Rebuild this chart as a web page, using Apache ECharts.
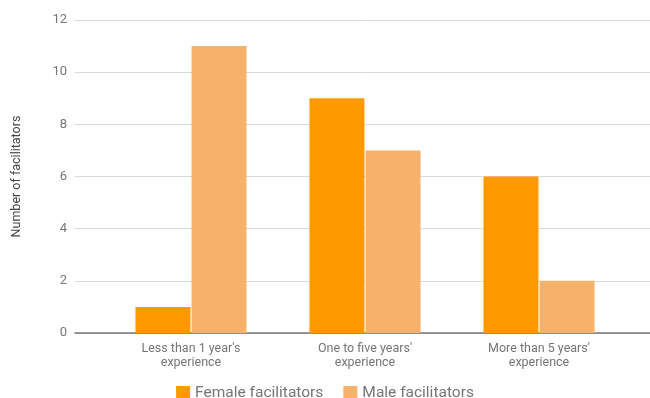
<!DOCTYPE html>
<html>
<head>
<meta charset="utf-8">
<script src="https://cdn.jsdelivr.net/npm/echarts@6/dist/echarts.min.js"></script>
<style>
  html, body { margin: 0; padding: 0; background: #fff; }
  #main { width: 650px; height: 398px; }
</style>
</head>
<body>
<div id="main"></div>
<script>
// data
var categories = ["Less than 1 year's\nexperience", "One to five years'\nexperience", "More than 5 years'\nexperience"];
var female = [1, 9, 6];
var male = [11, 7, 2];
var yTicks = [0, 2, 4, 6, 8, 10, 12];

var chart = echarts.init(document.getElementById('main'));

var labelFont = { color: '#757575', fontFamily: 'Roboto', fontSize: 12.5 };

var option = {
  animation: false,
  color: ['#ff9900', '#f6b26b'],
  legend: {
    top: 380,
    left: 'center',
    itemWidth: 14,
    itemHeight: 14,
    itemGap: 20,
    icon: 'rect',
    textStyle: { color: '#757575', fontFamily: 'Roboto', fontSize: 15.5 },
    data: ['Female facilitators', 'Male facilitators']
  },
  grid: [
    // background grid: gridlines run across the whole width
    { left: 75, right: 0, top: 20, bottom: 65 },
    // bars sit in a narrower band
    { left: 104, right: 24, top: 20, bottom: 65 }
  ],
  xAxis: [{
    gridIndex: 0,
    type: 'category',
    data: [''],
    axisLine: { show: true, lineStyle: { color: '#777', width: 1.5 } },
    axisTick: { show: false },
    axisLabel: { show: false }
  }, {
    gridIndex: 1,
    type: 'category',
    data: categories,
    axisLine: { show: false },
    axisTick: { show: false },
    axisLabel: Object.assign({ margin: 9, lineHeight: 14 }, labelFont)
  }],
  yAxis: [{
    gridIndex: 0,
    type: 'value',
    min: yTicks[0],
    max: yTicks[yTicks.length - 1],
    interval: 2,
    name: 'Number of facilitators',
    nameLocation: 'middle',
    nameGap: 52,
    nameTextStyle: Object.assign({}, labelFont, { fontSize: 12.5, color: '#444' }),
    axisLine: { show: false },
    axisTick: { show: false },
    axisLabel: Object.assign({ margin: 8 }, labelFont, { fontSize: 13 }),
    splitLine: { lineStyle: { color: '#d9d9d9', width: 1 } }
  }, {
    gridIndex: 1,
    type: 'value',
    min: yTicks[0],
    max: yTicks[yTicks.length - 1],
    interval: 2,
    show: false,
    splitLine: { show: false }
  }],
  series: [{
    name: 'Female facilitators',
    type: 'bar',
    xAxisIndex: 1,
    yAxisIndex: 1,
    barWidth: 55,
    barGap: '2%',
    data: female
  }, {
    name: 'Male facilitators',
    type: 'bar',
    xAxisIndex: 1,
    yAxisIndex: 1,
    barWidth: 55,
    barGap: '2%',
    data: male
  }]
};

chart.setOption(option);
</script>
</body>
</html>
